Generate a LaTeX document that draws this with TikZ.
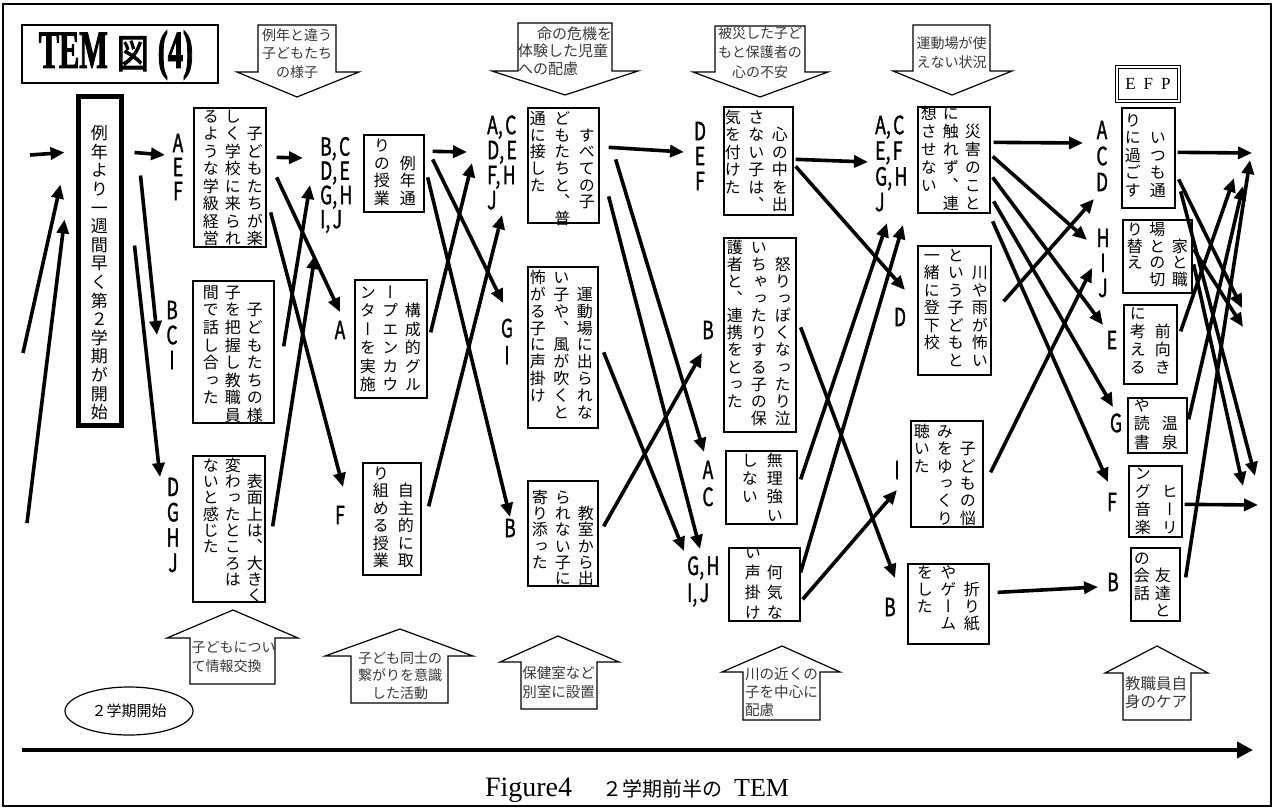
\documentclass[tikz,border=0pt]{standalone}
\usepackage{fontspec}
\usetikzlibrary{arrows.meta,calc,fit,shapes.geometric}
\setmainfont{Noto Sans CJK JP}
\newfontfamily\jp{Noto Sans CJK JP}
\newfontfamily\jpv[RawFeature=+vert]{Noto Sans CJK JP}
\newfontfamily\labf[FakeStretch=0.7,FakeBold=1.2]{Noto Sans CJK JP}
\newfontfamily\titlef[FakeStretch=0.56,FakeBold=1.5]{Liberation Serif}
\newfontfamily\jptitle[FakeStretch=0.8,FakeBold=2.5]{Noto Sans CJK JP}
\newfontfamily\capf{Liberation Serif}
\makeatletter
\newlength\tatep \newlength\tatew
\newcommand\tcol[1]{\vtop{\baselineskip=\tatep\lineskiplimit=-\maxdimen\lineskip=0pt\relax
 \@tfor\tcx:=#1\do{\hbox to\tatew{\hss\vrule height .9em depth .15em width 0pt\tcx\hss}}}}
\makeatother
\newcommand\cm{,\hspace{2.5pt}}
\tikzset{
 tb/.style={draw, line width=1.3pt, inner sep=0pt},
 arr/.style={line width=3.6pt, -{Triangle[length=14pt,width=12pt]}},
 lab/.style={font=\labf\fontsize{25}{#1}\selectfont, align=center, inner sep=0pt},
 lab/.default=25,
 labl/.style={font=\labf\fontsize{25}{#1}\selectfont, align=left, inner sep=0pt, anchor=west},
 labl/.default=25,
 tt/.style n args={3}{anchor=north east, inner sep=0pt, font=\jpv\fontsize{#1}{#1}\selectfont, execute at begin node={\tatep=#2pt\tatew=#3pt}},
 call/.style={draw, line width=1.2pt},
 ct/.style={inner sep=0pt, text=black!78, font=\jp\fontsize{14}{#1}\selectfont, align=center},
 ct/.default=18,
}
\begin{document}
\begin{tikzpicture}[x=1pt,y=-1pt]
\useasboundingbox (0,0) rectangle (1276,809);
\draw[line width=2pt] (3,4) rectangle (1271,806);

% title
\node[draw, line width=1.2pt, inner sep=0pt, fit={(22,25) (218,83)}] (tbox) {};
\node[inner sep=0pt] (title) at (116,55) {\titlef\bfseries\fontsize{54}{54}\selectfont TEM\hspace{9pt}{\mdseries\jptitle\fontsize{40}{40}\selectfont 図}\hspace{9pt}(4)};

% top callouts
\draw[call] (258,25) -- (336,25) -- (336,72) -- (359,72) -- (297,97) -- (237,72) -- (258,72) -- cycle;
\node[ct=18.5] (c1t) at (297,53.5) {例年と違う\\子どもたち\\の様子};
\draw[call] (518,23) -- (612,23) -- (612,71) -- (638,71) -- (565,95) -- (492,71) -- (518,71) -- cycle;
\node[ct=17.5, text width=94pt, align=left, font=\jp\fontsize{15}{17.5}\selectfont] (c2t) at (565,51) {\hspace*{\fill}命の危機を\\体験した児童\\への配慮};
\draw[call] (715,26) -- (805,26) -- (805,72) -- (828,72) -- (760,97) -- (693,72) -- (715,72) -- cycle;
\node[ct=19.5] (c3t) at (760,52.5) {被災した子ど\\もと保護者の\\心の不安};
\draw[call] (913,25) -- (990,25) -- (990,71) -- (1012,71) -- (952,95) -- (893,71) -- (913,71) -- cycle;
\node[ct=19] (c4t) at (951.5,52.5) {運動場が使\\えない状況};

% bottom callouts
\draw[call] (190,684) -- (275,684) -- (275,638) -- (298,638) -- (233,610) -- (167,638) -- (190,638) -- cycle;
\node[ct=19, text width=85pt, align=left] (u1t) at (234,656.5) {子どもについ\\て情報交換};
\draw[call] (351,703) -- (448,703) -- (448,656) -- (473,656) -- (400,629) -- (325,656) -- (351,656) -- cycle;
\node[ct=17.5] (u2t) at (400,675.5) {子ども同士の\\繋がりを意識\\した活動};
\draw[call] (521,709) -- (597,709) -- (597,662) -- (619,662) -- (558,636) -- (500,662) -- (521,662) -- cycle;
\node[ct=19, font=\jp\fontsize{14.5}{19}\selectfont] (u3t) at (558.5,682.5) {保健室など\\別室に設置};
\draw[call] (743,720) -- (820,720) -- (820,672) -- (840,672) -- (782,646) -- (722,672) -- (743,672) -- cycle;
\node[ct=18, text width=74pt, align=left, font=\jp\fontsize{14.6}{18}\selectfont] (u4t) at (782,692) {川の近くの\\子を中心に\\配慮};
\draw[call] (1123,720) -- (1191,720) -- (1191,673) -- (1208,673) -- (1157,646) -- (1105,673) -- (1123,673) -- cycle;
\node[ct=18, text width=64pt, align=left, font=\jp\fontsize{15.5}{18}\selectfont] (u5t) at (1157,693) {教職員自\\身のケア};

% start ellipse, timeline, caption
\node[draw, ellipse, line width=1.2pt, minimum width=128pt, minimum height=48pt, inner sep=0pt, font=\jp\fontsize{15}{15}\selectfont] (st) at (129,711) {２学期開始};
\coordinate (t0) at (22,750);
\coordinate (t1) at (1253,750);
\draw[line width=4.5pt, -{Triangle[length=16pt,width=16pt]}] (t0) -- (t1);
\node[inner sep=0pt] (cap) at (637,790) {{\capf\fontsize{28}{28}\selectfont Figure4}\hspace{30pt}{\jp\fontsize{20}{20}\selectfont ２学期前半の}\hspace{12pt}{\capf\fontsize{26}{26}\selectfont TEM}};

% boxes
\node[draw, line width=5pt, inner sep=0pt, fit={(78.5,96) (121.5,425)}] (b0) {};
\node[tt={17}{18.6}{24}] (t0x) at (111.5,124.2) {\tcol{例年より一週間早く第２学期が開始}};

\node[tb, fit={(194,108) (266,247)}] (b1) {};
\node[tt={16}{17.5}{22}] (t1x) at (266,107.7) {\hbox{\tcol{るような学級経営}\tcol{しく学校に来られ}\tcol{　子どもたちが楽}}};
\node[tb, fit={(193,281) (274,423)}] (b2) {};
\node[tt={16}{17.6}{22}] (t2x) at (266,283.7) {\hbox{\tcol{間で話し合った}\tcol{子を把握し教職員}\tcol{　子どもたちの様}}};
\node[tb, fit={(193,456) (265,602)}] (b3) {};
\node[tt={16}{16.3}{22}] (t3x) at (266,456.7) {\hbox{\tcol{ないと感じた}\tcol{変わったところは}\tcol{　表面上は、大きく}}};

\node[tb, fit={(364,135) (424,212)}] (b4) {};
\node[tt={16}{17.7}{26}] (t4x) at (421,136.7) {\hbox{\tcol{りの授業}\tcol{　例年通}}};
\node[tb, fit={(355,280) (427,398)}] (b5) {};
\node[tt={16}{18.5}{22.5}] (t5x) at (424.25,283.7) {\hbox{\tcol{ンターを実施}\tcol{ープエンカウ}\tcol{　構成的グル}}};
\node[tb, fit={(363,463) (421,575)}] (b6) {};
\node[tt={16}{17.5}{25}] (t6x) at (418.5,464.7) {\hbox{\tcol{り組める授業}\tcol{　自主的に取}}};

\node[tb, fit={(528,108) (599,223)}] (b7) {};
\node[tt={16}{16.7}{24.5}] (t7x) at (599.25,109.7) {\hbox{\tcol{通に接した}\tcol{どもたちと、普}\tcol{　すべての子}}};
\node[tb, fit={(528,267) (598,428)}] (b8) {};
\node[tt={16}{16.9}{23.5}] (t8x) at (596.75,268.7) {\hbox{\tcol{怖がる子に声掛け}\tcol{い子や、風が吹くと}\tcol{　運動場に出られな}}};
\node[tb, fit={(528,481) (598,586)}] (b9) {};
\node[tt={16}{16.3}{23}] (t9x) at (597.5,488.7) {\hbox{\tcol{寄り添った}\tcol{られない子に}\tcol{　教室から出}}};

\node[tb, fit={(724,107) (793,215)}] (b10) {};
\node[tt={16}{17.5}{23.5}] (t10x) at (791.75,108.7) {\hbox{\tcol{気を付けた}\tcol{さない子は、}\tcol{　心の中を出}}};
\node[tb, fit={(724,238) (796,432)}] (b11) {};
\node[tt={16}{17.1}{24}] (t11x) at (795,238.7) {\hbox{\tcol{護者と、連携をとった}\tcol{いちゃったりする子の保}\tcol{　怒りっぽくなったり泣}}};
\node[tb, fit={(726,451) (797,524)}] (b12) {};
\node[tt={16}{18.3}{25}] (t12x) at (787.5,451.7) {\hbox{\tcol{しない}\tcol{無理強い}}};
\node[tb, fit={(729,548) (800,621)}] (b13) {};
\node[tt={16}{20}{22}] (t13x) at (786,543.7) {\hbox{\tcol{い声掛け}\tcol{　何気な}}};

\node[tb, fit={(918,107) (990,213)}] (b14) {};
\node[tt={16}{18}{22}] (t14x) at (984,104.7) {\hbox{\tcol{想させない}\tcol{に触れず、連}\tcol{　災害のこと}}};
\node[tb, fit={(918,246) (991,375)}] (b15) {};
\node[tt={16}{17.5}{24}] (t15x) at (992,246.7) {\hbox{\tcol{一緒に登下校}\tcol{という子どもと}\tcol{　川や雨が怖い}}};
\node[tb, fit={(911,421) (983,527)}] (b16) {};
\node[tt={16}{17.4}{23}] (t16x) at (979.5,422.7) {\hbox{\tcol{聴いた}\tcol{みをゆっくり}\tcol{　子どもの悩}}};
\node[tb, fit={(908,564) (989,644)}] (b17) {};
\node[tt={16}{17}{23.5}] (t17x) at (983.75,563.7) {\hbox{\tcol{をした}\tcol{やゲーム}\tcol{　折り紙}}};

\node[draw, double, double distance=2.5pt, line width=1pt, inner sep=0pt, fit={(1117,67) (1179,101)}] (efp) {};
\node[inner sep=0pt, font=\capf\fontsize{17}{17}\selectfont] (efpt) at (1148,84) {E\hspace{8pt}F\hspace{8pt}P};
\node[tb, fit={(1122,108) (1175,208)}] (b18) {};
\node[tt={16}{17.5}{25}] (t18x) at (1170.5,111.7) {\hbox{\tcol{りに過ごす}\tcol{　いつも通}}};
\node[tb, fit={(1123,220) (1192,293)}] (b19) {};
\node[tt={16}{16.8}{22.5}] (t19x) at (1191.25,220.7) {\hbox{\tcol{り替え}\tcol{場との切}\tcol{　家と職}}};
\node[tb, fit={(1124,305) (1177,384)}] (b20) {};
\node[tt={16}{18}{25}] (t20x) at (1175.5,304.7) {\hbox{\tcol{に考える}\tcol{　前向き}}};
\node[tb, fit={(1128,398) (1187,453)}] (b21) {};
\node[tt={16}{18.5}{28}] (t21x) at (1184,396.7) {\hbox{\tcol{や読書}\tcol{　温泉}}};
\node[tb, fit={(1129,466) (1182,537)}] (b22) {};
\node[tt={16}{18}{27}] (t22x) at (1183.5,464.7) {\hbox{\tcol{ング音楽}\tcol{　ヒーリ}}};
\node[tb, fit={(1131,548) (1180,621)}] (b23) {};
\node[tt={16}{17.5}{21}] (t23x) at (1173.5,549.7) {\hbox{\tcol{の会話}\tcol{　友達と}}};

% labels
\node[lab=24] (lAEF) at (178,167) {A\\E\\F};
\node[lab=25] (lBCI) at (172,335) {B\\C\\I};
\node[lab=25.3] (lDGHJ) at (173,525) {D\\G\\H\\J};
\node[labl=22] (l2a) at (320,185) {B\cm C\\D\cm E\\G\cm H\\I\cm J};
\node[lab] (lA2) at (340,330) {A};
\node[lab] (lF2) at (340,515) {F};
\node[labl=25] (l3a) at (487,162.5) {A\cm C\\D\cm E\\F\cm H\\J};
\node[lab=27] (lGI) at (507,341.5) {G\\I};
\node[lab] (lB3) at (510,528) {B};
\node[lab=25] (lDEF) at (700,156) {D\\E\\F};
\node[lab] (lB4) at (708,330) {B};
\node[lab=27] (lAC4) at (708,483.5) {A\\C};
\node[labl=27] (lGHIJ4) at (687,581.5) {G\cm H\\I\cm J};
\node[labl=25.7] (l5a) at (875,163.5) {A\cm C\\E\cm F\\G\cm H\\J};
\node[lab] (lD5) at (900,317) {D};
\node[lab] (lI5) at (897,470) {I};
\node[lab] (lB5) at (890,607) {B};
\node[lab=26] (lACD6) at (1102,156) {A\\C\\D};
\node[lab=25] (lHIJ6) at (1103,263) {H\\I\\J};
\node[lab] (lE6) at (1112,340) {E};
\node[lab] (lG6) at (1116,423) {G};
\node[lab] (lF6) at (1112,502) {F};
\node[lab] (lB6) at (1113,582) {B};

% free ends
\coordinate (inA) at (30,155);
\coordinate (inB) at (23,353);
\coordinate (inC) at (27,523);
\coordinate (f1) at (1252,153);
\coordinate (f2) at (1242,308);
\coordinate (f3) at (1255,476);
\coordinate (f4) at (1243,327);
\coordinate (f5) at (1243,486);
\coordinate (f6) at (1234,178);
\coordinate (f7) at (1243,186);
\coordinate (f8) at (1250,160);
\coordinate (f9) at (1258,505);

% connectors
\draw[arr] (inA) -- ($(b0.north west)+(-11.5,59)$);
\draw[arr] (inB) -- ($(b0.north west)+(-15.5,91)$);
\draw[arr] (inC) -- ($(b0.north west)+(-11.5,126)$);
\draw[arr] ($(b0.north east)+(10.5,59)$) -- ($(lAEF)+(-13,-12)$);
\draw[arr] ($(b0.north east)+(16.5,82)$) -- ($(lBCI)+(-15,0)$);
\draw[arr] ($(b0.north east)+(10.5,152)$) -- ($(lDGHJ)+(-13,-48)$);

\draw[arr] ($(b1.north east)+(10,50)$) -- ($(l2a.west)+(-17,-27)$);
\draw[arr] ($(b1.north east)+(10,70)$) -- ($(lA2)+(0,-18)$);
\draw[arr] ($(b1.north east)+(4,105)$) -- ($(lF2)+(3,-28)$);
\draw[arr] ($(b2.north east)+(9,66)$) -- ($(l2a.west)+(-10,0)$);
\draw[arr] ($(b3.north east)+(7,71)$) -- ($(l2a.west)+(-5,70)$);

\draw[arr] ($(b4.north east)+(8,17)$) -- ($(l3a.west)+(-20,-10.5)$);
\draw[arr] ($(b4.north east)+(8,25)$) -- ($(lGI)+(-4,-38.5)$);
\draw[arr] ($(b4.north east)+(3,43)$) -- ($(lB3)+(0,-11)$);
\draw[arr] ($(b5.north east)+(3,53)$) -- ($(l3a.west)+(-15,0.5)$);
\draw[arr] ($(b6.north east)+(7,44)$) -- ($(l3a.west)+(15,52.5)$);

\draw[arr] ($(b7.north east)+(9,40)$) -- ($(lDEF)+(-16,-4)$);
\draw[arr] ($(b7.north east)+(16,52)$) -- ($(lAC4)+(-4,-31.5)$);
\draw[arr] ($(b7.north east)+(9,89)$) -- ($(lGHIJ4.west)+(13,-32.5)$);
\draw[arr] ($(b8.north east)+(5,86)$) -- ($(lGHIJ4.west)+(-3,-30.5)$);
\draw[arr] ($(b9.north east)+(5,46)$) -- ($(lB4)+(-6,23)$);

\draw[arr] ($(b10.north east)+(2,53)$) -- ($(l5a.west)+(-7,-1.5)$);
\draw[arr] ($(b10.north east)+(2,60)$) -- ($(lD5)+(5,-27)$);
\draw[arr] ($(b11.north east)+(4,90)$) -- ($(lB5)+(5,-29)$);
\draw[arr] ($(b12.north east)+(3,29)$) -- ($(l5a.west)+(12,59.5)$);
\draw[arr] ($(b13.north east)+(0,25)$) -- ($(l5a.west)+(28,61.5)$);
\draw[arr] ($(b13.north east)+(2,52)$) -- ($(lI5)+(0,20)$);

\draw[arr] ($(b14.north east)+(3,36)$) -- ($(lACD6)+(-19,-13)$);
\draw[arr] ($(b14.north east)+(2,50)$) -- ($(lHIJ6)+(-16,-23)$);
\draw[arr] ($(b14.north east)+(2,71)$) -- ($(lE6)+(-9,-15)$);
\draw[arr] ($(b14.north east)+(3,95)$) -- ($(lG6)+(-3,-16)$);
\draw[arr] ($(b14.north east)+(2,115)$) -- ($(lF6)+(-4,-20)$);
\draw[arr] ($(b15.north east)+(12,56)$) -- ($(lACD6)+(-8,43)$);
\draw[arr] ($(b16.north east)+(7,52)$) -- ($(lHIJ6)+(-11,5)$);
\draw[arr] ($(b17.north east)+(8,29)$) -- ($(lB6)+(-15,5)$);

\draw[arr] ($(b18.north east)+(2,45)$) -- (f1);
\draw[arr] ($(b18.north east)+(3,72)$) -- (f2);
\draw[arr] ($(b18.north east)+(5,84)$) -- (f3);
\draw[arr] ($(b19.north east)+(1,30)$) -- (f4);
\draw[arr] ($(b19.north east)+(1,45)$) -- (f5);
\draw[arr] ($(b20.north east)+(3,27)$) -- (f6);
\draw[arr] ($(b21.north east)+(1,22)$) -- (f7);
\draw[arr] ($(b23.north east)+(5,30)$) -- (f8);
\draw[arr] ($(b22.north east)+(2,39)$) -- (f9);
\end{tikzpicture}
\end{document}
